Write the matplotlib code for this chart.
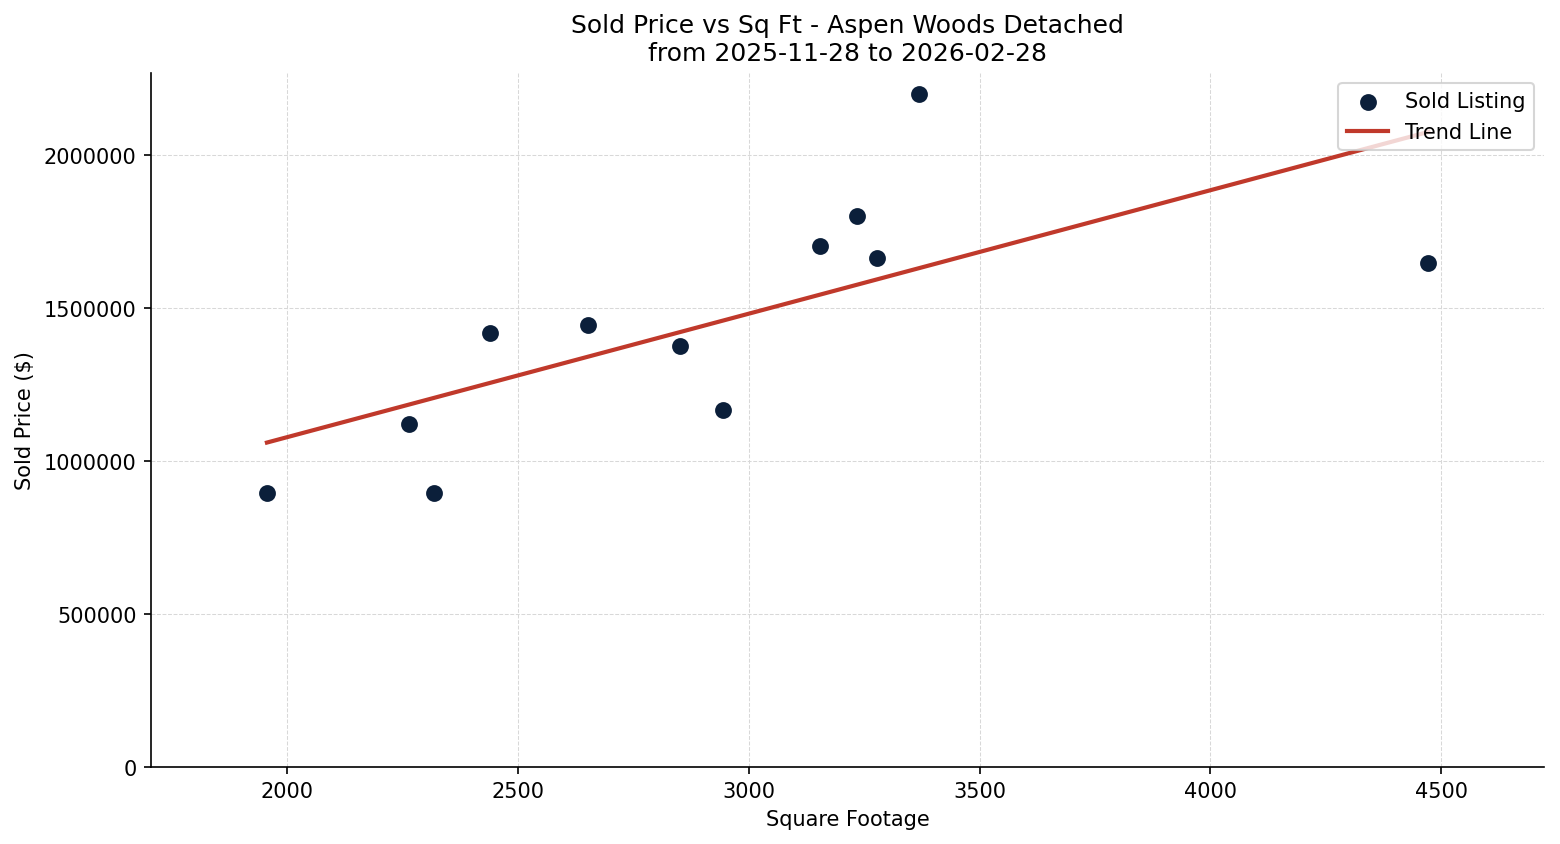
import numpy as np
import matplotlib
matplotlib.use("Agg")
import matplotlib.pyplot as plt

# sold listings
sq_ft = [1957, 2264, 2318, 2439, 2652, 2851, 2944, 3154, 3234, 3277, 3368, 4472]
sold_price = [895000, 1121000, 895000, 1418000, 1444000, 1376000, 1167000,
              1703000, 1801000, 1663000, 2199000, 1647000]

area_name = "Aspen Woods Detached"
date_from = "2025-11-28"
date_to = "2026-02-28"

x = np.array(sq_ft)
y = np.array(sold_price)

# simple linear trend
slope, intercept = np.polyfit(x, y, 1)
trend_x = np.array([x.min(), x.max()])
trend_y = slope * trend_x + intercept

fig, ax = plt.subplots(figsize=(10.4, 5.6333), dpi=150)
ax.scatter(x, y, s=50, color="#0b1f3a", label="Sold Listing", zorder=3)
ax.plot(trend_x, trend_y, color="#c0392b", linewidth=2, label="Trend Line", zorder=2)

ax.set_xlim(1706, 4723)
ax.set_ylim(0, 2268000)
ax.set_xlabel("Square Footage")
ax.set_ylabel("Sold Price ($)")
ax.set_title(f"Sold Price vs Sq Ft - {area_name}\nfrom {date_from} to {date_to}", fontsize=12)
ax.ticklabel_format(style="plain", axis="y")
ax.grid(True, linestyle="--", linewidth=0.5, color="#d8d8d8")
ax.spines["top"].set_visible(False)
ax.spines["right"].set_visible(False)
ax.legend(loc="upper right")

fig.subplots_adjust(left=0.0968, right=0.990, bottom=0.0917, top=0.9128)
fig.savefig("out.png", dpi=150)
